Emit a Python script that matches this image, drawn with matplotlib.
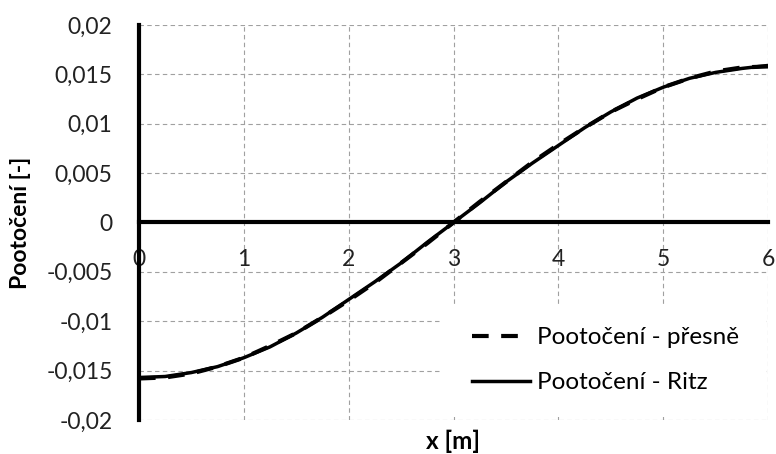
import matplotlib
matplotlib.use("Agg")
from matplotlib import pyplot as plt
from matplotlib.patches import Rectangle
from matplotlib.ticker import FuncFormatter

x_vals = [0.0, 0.25, 0.5, 0.75, 1.0, 1.25, 1.5, 1.75, 2.0, 2.25, 2.5, 2.75, 3.0,
          3.25, 3.5, 3.75, 4.0, 4.25, 4.5, 4.75, 5.0, 5.25, 5.5, 5.75, 6.0]
rot_exact = [-0.0158, -0.0157, -0.0153, -0.0146, -0.0137, -0.0125, -0.0112,
             -0.0096, -0.0079, -0.0061, -0.0041, -0.0021, 0.0,
             0.0021, 0.0041, 0.0061, 0.0079, 0.0096, 0.0112, 0.0125, 0.0137,
             0.0146, 0.0153, 0.0157, 0.0158]
rot_ritz = [-0.0157, -0.0156, -0.0152, -0.0146, -0.0137, -0.0126, -0.0112,
            -0.0096, -0.0078, -0.0060, -0.0041, -0.0020, 0.0,
            0.0020, 0.0041, 0.0060, 0.0078, 0.0096, 0.0112, 0.0126, 0.0137,
            0.0146, 0.0152, 0.0156, 0.0159]

x_ticks = [0, 1, 2, 3, 4, 5, 6]
y_ticks = [-0.02, -0.015, -0.01, -0.005, 0, 0.005, 0.01, 0.015, 0.02]

plt.rcParams['font.family'] = ['Lato', 'DejaVu Sans']

fig = plt.figure(figsize=(7.76, 4.54), dpi=100)
ax = fig.add_axes([0.179, 0.075, 0.811, 0.870])

ax.plot(x_vals, rot_exact, color='black', lw=3, ls=(0, (4, 3)),
        label='Pootočení - přesně', zorder=3)
ax.plot(x_vals, rot_ritz, color='black', lw=2.5, label='Pootočení - Ritz', zorder=3)

ax.set_xlim(0, 6)
ax.set_ylim(-0.02, 0.02)
ax.set_xticks(x_ticks)
ax.set_yticks(y_ticks)

def comma(v, pos):
    if abs(v) < 1e-12:
        return '0'
    s = ('%.3f' % v).rstrip('0').rstrip('.')
    return s.replace('.', ',')

ax.yaxis.set_major_formatter(FuncFormatter(comma))
ax.xaxis.set_major_formatter(FuncFormatter(lambda v, p: '%d' % v))

ax.grid(True, color='#a0a0a0', ls=(0, (4, 3)), lw=0.8)
for s in ['top', 'right']:
    ax.spines[s].set_visible(False)
ax.spines['bottom'].set_position(('data', 0))
ax.spines['bottom'].set_linewidth(3)
ax.spines['left'].set_linewidth(3)
ax.tick_params(length=0, labelsize=16.5, colors='#222222')
ax.tick_params(axis='x', pad=19)
ax.tick_params(axis='y', pad=19)

ax.set_ylabel('Pootočení [-]', fontsize=16.5, fontweight='bold')
ax.yaxis.set_label_coords(-0.172, 0.5)
fig.text(453 / 776, 1 - 441 / 454, 'x [m]', fontsize=17.5, fontweight='bold',
         ha='center', va='center')

# white area behind the legend, hiding the grid
ax.add_patch(Rectangle((0.479, 0.008), 0.518, 0.281, transform=ax.transAxes,
                       facecolor='white', edgecolor='none', zorder=2.5))
leg = ax.legend(loc='upper left', bbox_to_anchor=(0.529, 0.235), frameon=False,
                fontsize=17.5, handlelength=2.4, labelspacing=1.0, handletextpad=0.3,
                borderpad=0, borderaxespad=0)

fig.savefig('out.png', dpi=100)
